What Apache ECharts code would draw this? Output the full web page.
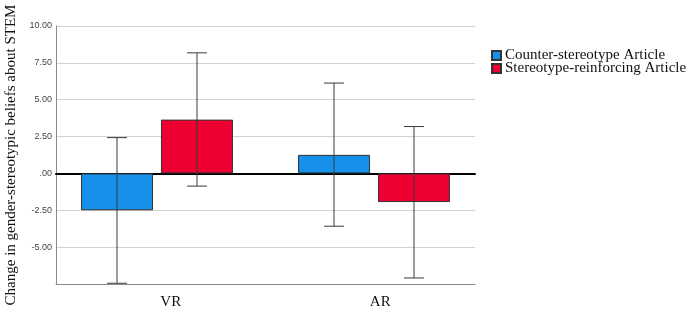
<!DOCTYPE html>
<html>
<head>
    <meta charset="UTF-8">
    <title>Change in beliefs about STEM</title>
    <script src="https://cdn.jsdelivr.net/npm/echarts@6/dist/echarts.min.js"></script>
    <style>body{margin:0;background:#fff;}</style>
</head>
<body>
    <div id="chart" style="width:692px; height:313px;"></div>
    <script>
        var categories = ['VR', 'AR'];
        var seriesNames = ['Counter-stereotype Article', 'Stereotype-reinforcing Article'];
        var counterMeans = [-2.50, 1.26];
        var stereoMeans = [3.65, -1.94];
        // error bar ends [low, high]
        var counterErr = [[-7.45, 2.43], [-3.58, 6.13]];
        var stereoErr = [[-0.86, 8.18], [-7.09, 3.18]];
        var yTicks = [10, 7.5, 5, 2.5, 0, -2.5, -5];

        var serif = 'Liberation Serif';
        var blue = '#1591ea';
        var red = '#ee0033';

        function errData(arr) {
            return arr.map(function (d, i) { return [i, d[0], d[1]]; });
        }

        function errBar(offset) {
            return function (params, api) {
                var lo = api.coord([api.value(0), api.value(1)]);
                var hi = api.coord([api.value(0), api.value(2)]);
                var x = lo[0] + offset;
                var st = {stroke: '#3a3a3a', lineWidth: 1};
                return {
                    type: 'group',
                    children: [
                        {type: 'line', shape: {x1: x, y1: lo[1], x2: x, y2: hi[1]}, style: st},
                        {type: 'line', shape: {x1: x - 10, y1: lo[1], x2: x + 10, y2: lo[1]}, style: st},
                        {type: 'line', shape: {x1: x - 10, y1: hi[1], x2: x + 10, y2: hi[1]}, style: st}
                    ]
                };
            };
        }

        var chart = echarts.init(document.getElementById('chart'), null, {renderer: 'canvas'});
        chart.setOption({
            animation: false,
            backgroundColor: '#fff',
            legend: {
                data: seriesNames,
                icon: 'rect',
                orient: 'vertical',
                left: 486,
                top: 43,
                itemWidth: 9,
                itemHeight: 9,
                itemGap: -2,
                textStyle: {fontFamily: serif, fontSize: 15, color: '#111', padding: [0, 0, 0, -1]}
            },
            grid: [
                {left: 56, right: 217, top: 26, bottom: 29, outerBoundsMode: 'none', containLabel: false},
                {left: 48.5, right: 209.5, top: 26, bottom: 29, outerBoundsMode: 'none', containLabel: false}
            ],
            xAxis: [
                {
                    gridIndex: 0, type: 'category', data: categories, position: 'bottom',
                    axisLine: {onZero: false, lineStyle: {color: '#8a8a8a', width: 1}},
                    axisTick: {show: false},
                    axisLabel: {fontFamily: serif, fontSize: 15, color: '#111', margin: 11, padding: [0, 0, 0, 20]}
                },
                {
                    gridIndex: 0, type: 'category', data: categories, position: 'top',
                    axisLine: {onZero: true, lineStyle: {color: '#000', width: 2}},
                    axisTick: {show: false},
                    axisLabel: {show: false}
                },
                {
                    gridIndex: 1, type: 'category', data: categories, show: false
                }
            ],
            yAxis: [
                {
                    gridIndex: 0, type: 'value', min: -7.5, max: 10, interval: 2.5,
                    name: 'Change in gender-stereotypic beliefs about STEM',
                    nameLocation: 'middle', nameGap: 36,
                    nameTextStyle: {fontFamily: serif, fontSize: 15, color: '#111'},
                    axisLine: {show: true, lineStyle: {color: '#8a8a8a'}},
                    axisTick: {show: false},
                    splitLine: {lineStyle: {color: '#d2d2d2'}},
                    axisLabel: {
                        fontFamily: 'Liberation Sans', fontSize: 9, color: '#444', margin: 4,
                        formatter: function (v) {
                            if (yTicks.indexOf(v) < 0) return '';
                            if (v === 0) return '.00';
                            return v.toFixed(2);
                        }
                    }
                },
                {
                    gridIndex: 1, type: 'value', min: -7.5, max: 10, interval: 2.5, show: false
                }
            ],
            series: [
                {
                    name: seriesNames[0], type: 'bar', xAxisIndex: 2, yAxisIndex: 1,
                    data: counterMeans, barWidth: 72, barGap: '11%',
                    itemStyle: {color: blue, borderColor: '#333', borderWidth: 1}
                },
                {
                    name: seriesNames[1], type: 'bar', xAxisIndex: 2, yAxisIndex: 1,
                    data: stereoMeans, barWidth: 72, barGap: '11%',
                    itemStyle: {color: red, borderColor: '#333', borderWidth: 1}
                },
                {
                    type: 'custom', xAxisIndex: 2, yAxisIndex: 1, z: 5,
                    data: errData(counterErr), encode: {x: 0, y: [1, 2]},
                    renderItem: errBar(-40)
                },
                {
                    type: 'custom', xAxisIndex: 2, yAxisIndex: 1, z: 5,
                    data: errData(stereoErr), encode: {x: 0, y: [1, 2]},
                    renderItem: errBar(40)
                }
            ]
        });
    </script>
</body>
</html>
